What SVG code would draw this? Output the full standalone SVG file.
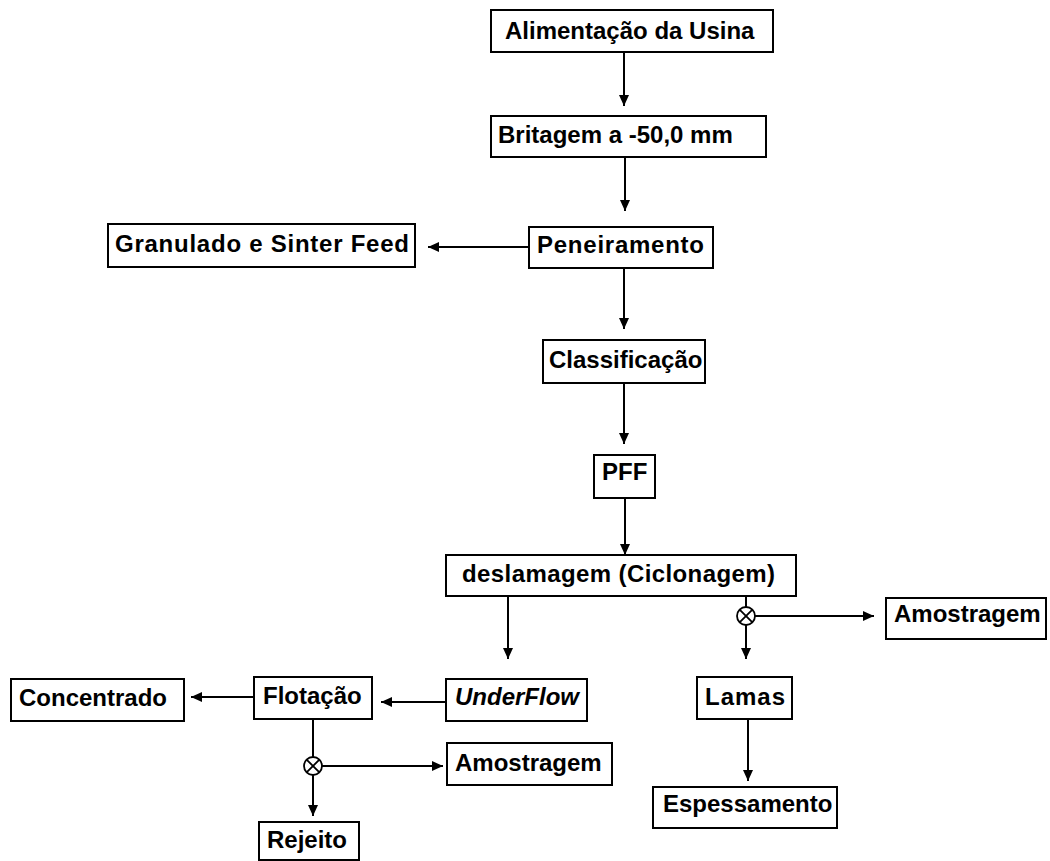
<svg xmlns="http://www.w3.org/2000/svg" width="1050" height="861" viewBox="0 0 1050 861">
<style>
.box{fill:#fff;stroke:#000;stroke-width:2}
.t{font-family:"Liberation Sans",Arial,sans-serif;font-weight:bold;font-size:24px;fill:#000}
.i{font-style:italic}
.c{fill:none;stroke:#000;stroke-width:2}
.j{fill:#fff;stroke:#000;stroke-width:1.8}
</style>
<defs>
<marker id="ah" markerUnits="userSpaceOnUse" markerWidth="12" markerHeight="11" refX="11" refY="5" orient="auto">
<path d="M0,0 L11,5 L0,10 z" fill="#000"/>
</marker>
</defs>
<rect width="1050" height="861" fill="#fff"/>
<g id="connectors">
<line class="c" x1="624" y1="52" x2="624" y2="106" marker-end="url(#ah)"/>
<line class="c" x1="625" y1="157" x2="625" y2="211" marker-end="url(#ah)"/>
<line class="c" x1="529" y1="247" x2="428" y2="247" marker-end="url(#ah)"/>
<line class="c" x1="624" y1="268" x2="624" y2="329" marker-end="url(#ah)"/>
<line class="c" x1="624" y1="383" x2="624" y2="444" marker-end="url(#ah)"/>
<line class="c" x1="625" y1="498" x2="625" y2="555" marker-end="url(#ah)"/>
<line class="c" x1="508" y1="596" x2="508" y2="659" marker-end="url(#ah)"/>
<line class="c" x1="746" y1="596" x2="746" y2="607"/>
<line class="c" x1="755" y1="616" x2="874" y2="616" marker-end="url(#ah)"/>
<line class="c" x1="746" y1="625" x2="746" y2="659" marker-end="url(#ah)"/>
<g class="j"><circle cx="746" cy="616" r="9"/><path d="M739.6,609.6 L752.4,622.4 M752.4,609.6 L739.6,622.4"/></g>
<line class="c" x1="446" y1="702" x2="381" y2="702" marker-end="url(#ah)"/>
<line class="c" x1="254" y1="697" x2="191" y2="697" marker-end="url(#ah)"/>
<line class="c" x1="313" y1="719" x2="313" y2="757"/>
<line class="c" x1="322" y1="766" x2="443" y2="766" marker-end="url(#ah)"/>
<line class="c" x1="313" y1="775" x2="313" y2="816" marker-end="url(#ah)"/>
<g class="j"><circle cx="313" cy="766" r="9"/><path d="M306.6,759.6 L319.4,772.4 M319.4,759.6 L306.6,772.4"/></g>
<line class="c" x1="748" y1="719" x2="748" y2="781" marker-end="url(#ah)"/>
</g>
<g id="n1"><rect class="box" x="491" y="10" width="282" height="42"/><text class="t" x="505" y="39">Alimentação da Usina</text></g>
<g id="n2"><rect class="box" x="491" y="116" width="275" height="41"/><text class="t" x="498" y="143">Britagem a -50,0 mm</text></g>
<g id="n3"><rect class="box" x="529" y="227" width="184" height="41"/><text class="t" x="537" y="253" textLength="167">Peneiramento</text></g>
<g id="n4"><rect class="box" x="108" y="224" width="307" height="43"/><text class="t" x="115" y="252" textLength="294">Granulado e Sinter Feed</text></g>
<g id="n5"><rect class="box" x="543" y="340" width="162" height="43"/><text class="t" x="549" y="368">Classificação</text></g>
<g id="n6"><rect class="box" x="594" y="455" width="61" height="43"/><text class="t" x="602" y="480">PFF</text></g>
<g id="n7"><rect class="box" x="446" y="555" width="350" height="41"/><text class="t" x="462" y="582" textLength="313">deslamagem (Ciclonagem)</text></g>
<g id="n8"><rect class="box" x="886" y="598" width="160" height="41"/><text class="t" x="894" y="622">Amostragem</text></g>
<g id="n9"><rect class="box" x="446" y="679" width="141" height="42"/><text class="t i" x="455" y="705">UnderFlow</text></g>
<g id="n10"><rect class="box" x="697" y="677" width="95" height="42"/><text class="t" x="705" y="705" textLength="80">Lamas</text></g>
<g id="n11"><rect class="box" x="254" y="677" width="118" height="42"/><text class="t" x="263" y="704">Flotação</text></g>
<g id="n12"><rect class="box" x="11" y="679" width="173" height="42"/><text class="t" x="19" y="706">Concentrado</text></g>
<g id="n13"><rect class="box" x="447" y="743" width="165" height="42"/><text class="t" x="455" y="771">Amostragem</text></g>
<g id="n14"><rect class="box" x="259" y="822" width="100" height="38"/><text class="t" x="267" y="848">Rejeito</text></g>
<g id="n15"><rect class="box" x="653" y="787" width="184" height="41"/><text class="t" x="663" y="812">Espessamento</text></g>
</svg>
